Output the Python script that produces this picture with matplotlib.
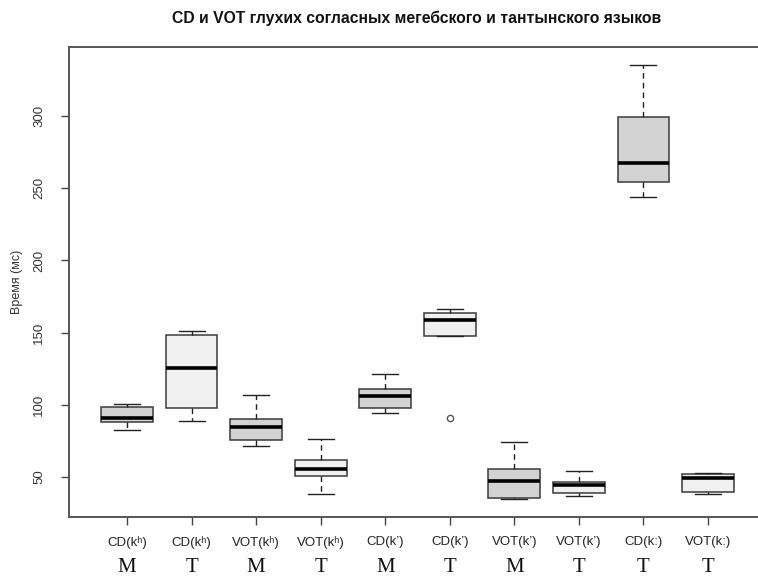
import matplotlib
matplotlib.use("Agg")
import matplotlib.pyplot as plt
import matplotlib.transforms as mtransforms

categories = ["CD(kʰ)", "CD(kʰ)", "VOT(kʰ)", "VOT(kʰ)", "CD(k’)", "CD(k’)",
              "VOT(k’)", "VOT(k’)", "CD(kː)", "VOT(kː)"]
languages = ["M", "T", "M", "T", "M", "T", "M", "T", "T", "T"]
whislo = [82.6, 88.8, 71.3, 37.8, 94.0, 147.4, 34.3, 36.6, 244.2, 38.0]
q1 = [87.7, 97.6, 75.2, 50.3, 97.4, 147.4, 35.0, 38.5, 254.2, 39.4]
med = [90.5, 125.6, 84.5, 55.3, 106.0, 158.7, 47.0, 44.2, 267.8, 49.1]
q3 = [98.5, 148.3, 90.2, 61.6, 110.6, 163.7, 55.3, 46.3, 299.2, 51.9]
whishi = [100.8, 150.8, 106.9, 75.9, 121.2, 166.1, 74.3, 53.7, 335.5, 52.4]
fliers = [[], [], [], [], [], [90.9], [], [], [], []]
box_colors = ["#d3d3d3", "#f0f0f0"] * 5
yticks = [50, 100, 150, 200, 250, 300]

fig = plt.figure(figsize=(7.58, 5.78), dpi=100)
W, H = 758, 578
ax = fig.add_axes([69 / W, 1 - 517 / H, (766 - 69) / W, (517 - 47) / H])

stats = []
for i in range(len(categories)):
    stats.append(dict(whislo=whislo[i], q1=q1[i], med=med[i], q3=q3[i],
                      whishi=whishi[i], fliers=fliers[i], label=categories[i]))

bp = ax.bxp(stats, positions=range(1, len(stats) + 1), widths=0.8,
            patch_artist=True, showfliers=True,
            boxprops=dict(edgecolor="#3a3a3a", linewidth=1.1),
            medianprops=dict(color="black", linewidth=2.6, solid_capstyle="butt"),
            whiskerprops=dict(color="#222222", linewidth=1.0, linestyle=(0, (4, 3))),
            capprops=dict(color="#222222", linewidth=1.0),
            flierprops=dict(marker="o", markersize=4.5, markerfacecolor="none",
                            markeredgecolor="#555555", markeredgewidth=1.0),
            capwidths=0.4)
for patch, c in zip(bp["boxes"], box_colors):
    patch.set_facecolor(c)

ax.set_xlim(0.1, 10.9)
ax.set_ylim(22.1, 348.0)
ax.set_yticks(yticks)
ax.set_yticklabels([str(t) for t in yticks], rotation=90, va="center",
                   fontsize=9.5, color="#333333", family="Liberation Sans")
ax.set_xticks(range(1, len(categories) + 1))
ax.set_xticklabels(categories, fontsize=9.5, color="#222222", family="Liberation Sans")
ax.tick_params(axis="y", length=6, width=1, color="#444444", pad=11)
ax.tick_params(axis="x", length=6, width=1, color="#444444", pad=8)
for s in ax.spines.values():
    s.set_color("#555555")
    s.set_linewidth(1.4)

trans = mtransforms.blended_transform_factory(ax.transData, fig.transFigure)
for i, lab in enumerate(languages):
    ax.text(i + 1, 1 - 568 / H, lab, transform=trans, ha="center", va="center",
            fontsize=15, family="Liberation Serif", color="#111111")

ax.set_ylabel("Время (мс)", fontsize=9, color="#333333", family="Liberation Sans")
ax.yaxis.set_label_coords(23 / W, 0.5, transform=fig.transFigure)
ax.yaxis.label.set_y(1 - 282 / H)

fig.text(417 / W, 1 - 18 / H, "CD и VOT глухих согласных мегебского и тантынского языков",
         ha="center", va="center", fontsize=11.3, fontweight="bold",
         family="Liberation Sans", color="#111111")

fig.savefig("out.png", dpi=100)
